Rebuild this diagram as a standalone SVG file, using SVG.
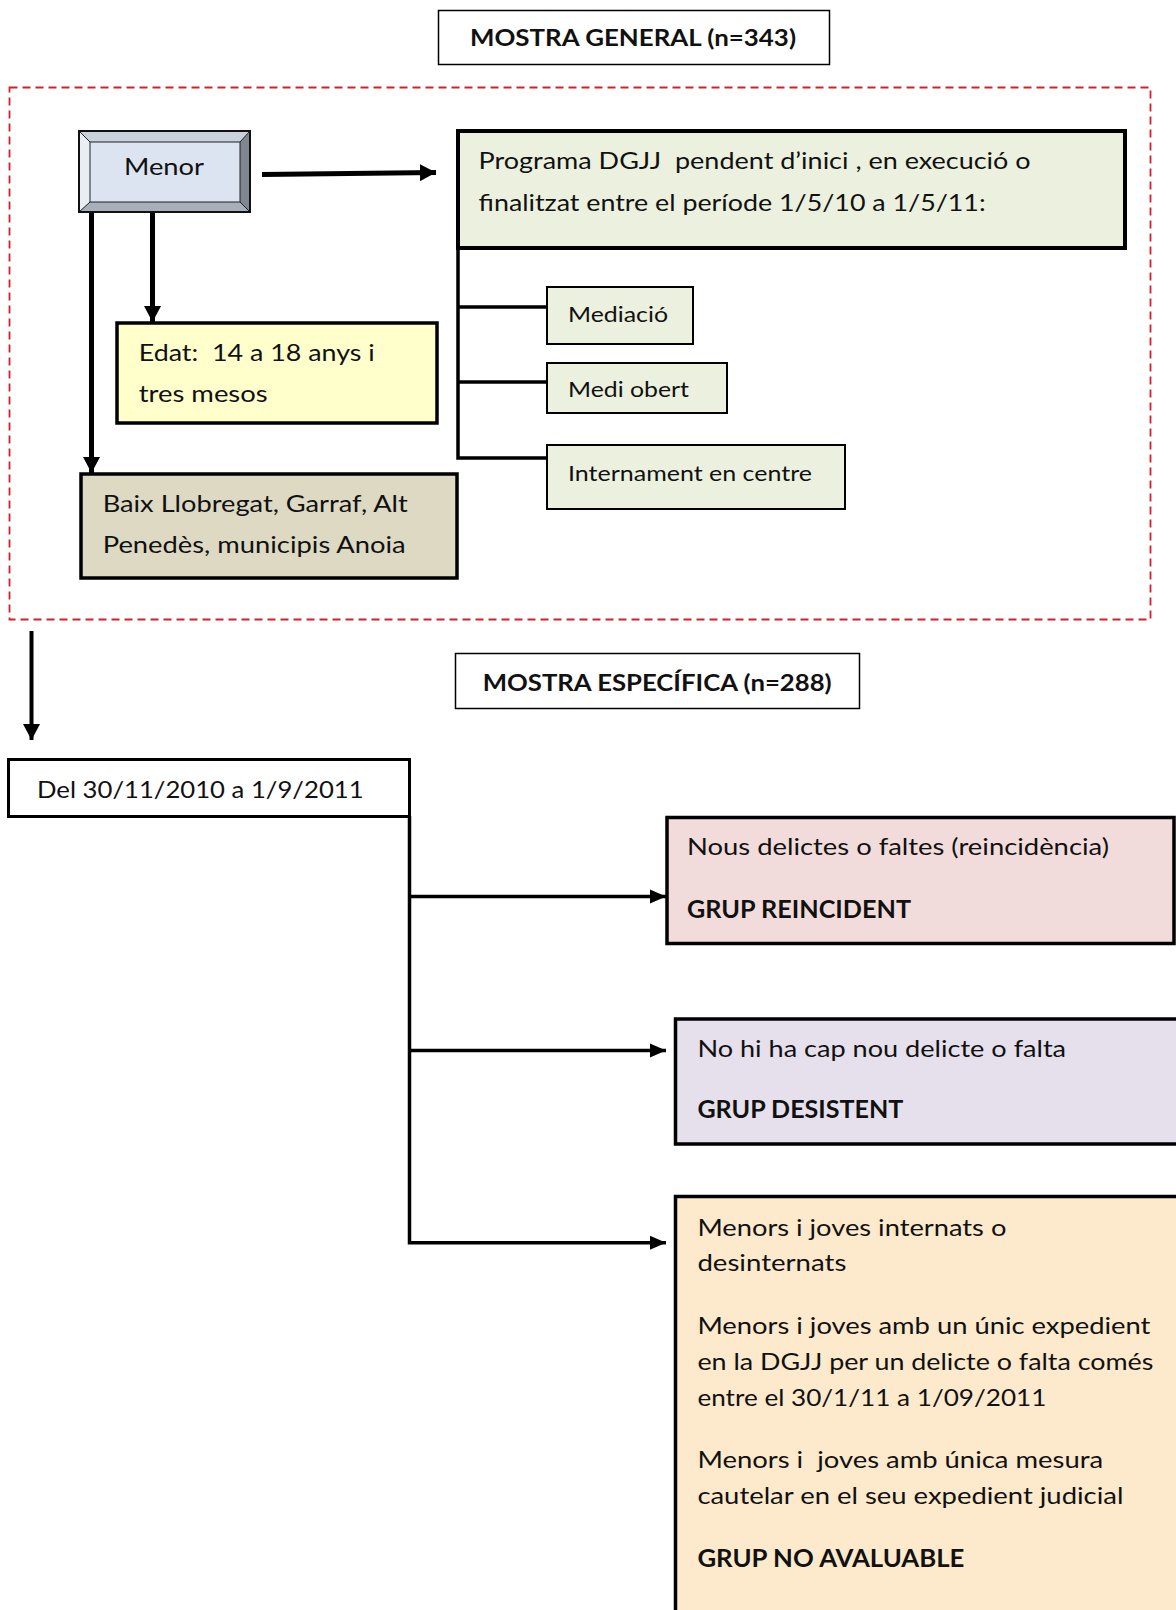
<svg xmlns="http://www.w3.org/2000/svg" width="1176" height="1610" viewBox="0 0 1176 1610">
<style>
text{font-family:Lato,"Liberation Sans",sans-serif;fill:#111;}
.t22{font-size:23px;}
.t20{font-size:21px;}
.t24{font-size:24px;}
.b{font-weight:bold;}
.box{stroke:#000;}
.line{fill:none;stroke:#000;}
</style>
<defs>
<marker id="ah" viewBox="0 0 16 17" markerWidth="16" markerHeight="17" markerUnits="userSpaceOnUse" refX="16" refY="8.5" orient="auto">
<path d="M0,0 L16,8.5 L0,17 z" fill="#000"/>
</marker>
<marker id="ahs" viewBox="0 0 16 15" markerWidth="16" markerHeight="15" markerUnits="userSpaceOnUse" refX="16" refY="7.5" orient="auto">
<path d="M0,0.5 L16,7.5 L0,14.5 z" fill="#000"/>
</marker>
</defs>
<rect width="1176" height="1610" fill="#fff"/>

<rect x="9.5" y="87.5" width="1141" height="532" fill="none" stroke="#d4202a" stroke-width="1.8" stroke-dasharray="8,5"/>

<g id="connectors">
<line class="line" x1="262" y1="174.5" x2="436" y2="172.5" stroke-width="5" marker-end="url(#ah)"/>
<line class="line" x1="152.5" y1="212" x2="152.5" y2="322" stroke-width="5" marker-end="url(#ah)"/>
<line class="line" x1="91.5" y1="212" x2="91.5" y2="473" stroke-width="5" marker-end="url(#ah)"/>
<polyline class="line" points="458,248 458,458 547,458" stroke-width="3.5"/>
<line class="line" x1="458" y1="307" x2="547" y2="307" stroke-width="3.5"/>
<line class="line" x1="458" y1="382" x2="547" y2="382" stroke-width="3.5"/>
<line class="line" x1="31.5" y1="631" x2="31.5" y2="740" stroke-width="4" marker-end="url(#ah)"/>
<polyline class="line" points="409.5,816 409.5,1242.7 666,1242.7" stroke-width="3.5" marker-end="url(#ahs)"/>
<line class="line" x1="409.5" y1="896.5" x2="666" y2="896.5" stroke-width="3.5" marker-end="url(#ahs)"/>
<line class="line" x1="409.5" y1="1050.5" x2="666" y2="1050.5" stroke-width="3.5" marker-end="url(#ahs)"/>
</g>

<g id="mostra-general">
<rect class="box" x="438.5" y="10.5" width="391" height="54" fill="#fff" stroke-width="1.5"/>
<text class="t22 b" x="470" y="46" textLength="326" lengthAdjust="spacingAndGlyphs">MOSTRA GENERAL (n=343)</text>
</g>

<g id="menor">
<rect x="79" y="131" width="171" height="81" fill="#c9d1dc"/>
<polygon points="79,131 90,142 90,202 79,212" fill="#e9eef5"/>
<polygon points="250,131 240,142 240,202 250,212" fill="#7f8791"/>
<polygon points="79,212 90,202 240,202 250,212" fill="#a7afba"/>
<rect x="90" y="142" width="150" height="60" fill="#dbe4f0" stroke="#222" stroke-width="1"/>
<line x1="79" y1="131" x2="90" y2="142" stroke="#222" stroke-width="1"/>
<line x1="250" y1="131" x2="240" y2="142" stroke="#222" stroke-width="1"/>
<line x1="79" y1="212" x2="90" y2="202" stroke="#222" stroke-width="1"/>
<line x1="250" y1="212" x2="240" y2="202" stroke="#222" stroke-width="1"/>
<rect x="79" y="131" width="171" height="81" fill="none" stroke="#111" stroke-width="2"/>
<text class="t24" x="124" y="175" textLength="80" lengthAdjust="spacingAndGlyphs">Menor</text>
</g>

<g id="programa">
<rect class="box" x="458" y="131" width="667" height="117" fill="#ebf1de" stroke-width="4"/>
<text class="t24" xml:space="preserve" x="478.6" y="169" textLength="552" lengthAdjust="spacingAndGlyphs">Programa DGJJ  pendent d’inici , en execució o</text>
<text class="t24" x="478.6" y="211" textLength="507" lengthAdjust="spacingAndGlyphs">finalitzat entre el període 1/5/10 a 1/5/11:</text>
</g>

<g id="mediacio">
<rect class="box" x="547" y="287" width="146" height="57" fill="#ebf1de" stroke-width="2"/>
<text class="t20" x="568" y="322" textLength="100" lengthAdjust="spacingAndGlyphs">Mediació</text>
</g>

<g id="medi-obert">
<rect class="box" x="547" y="363" width="180" height="50" fill="#ebf1de" stroke-width="2"/>
<text class="t20" x="568" y="397" textLength="121" lengthAdjust="spacingAndGlyphs">Medi obert</text>
</g>

<g id="internament">
<rect class="box" x="547" y="445" width="298" height="64" fill="#ebf1de" stroke-width="2"/>
<text class="t20" x="568" y="481" textLength="244" lengthAdjust="spacingAndGlyphs">Internament en centre</text>
</g>

<g id="edat">
<rect class="box" x="117" y="323" width="320" height="100" fill="#ffffcc" stroke-width="3.5"/>
<text class="t24" xml:space="preserve" x="138.7" y="361" textLength="236" lengthAdjust="spacingAndGlyphs">Edat:  14 a 18 anys i</text>
<text class="t24" x="138.7" y="402" textLength="129" lengthAdjust="spacingAndGlyphs">tres mesos</text>
</g>

<g id="territori">
<rect class="box" x="81" y="474" width="376" height="104" fill="#ddd9c3" stroke-width="3.5"/>
<text class="t24" x="102.7" y="512" textLength="305" lengthAdjust="spacingAndGlyphs">Baix Llobregat, Garraf, Alt</text>
<text class="t24" x="102.7" y="553" textLength="303" lengthAdjust="spacingAndGlyphs">Penedès, municipis Anoia</text>
</g>

<g id="mostra-especifica">
<rect class="box" x="455.5" y="653.5" width="404" height="55" fill="#fff" stroke-width="1.5"/>
<text class="t22 b" x="482.7" y="691" textLength="349" lengthAdjust="spacingAndGlyphs">MOSTRA ESPECÍFICA (n=288)</text>
</g>

<g id="periode">
<rect class="box" x="8.5" y="759.5" width="401" height="57" fill="#fff" stroke-width="3"/>
<text class="t24" x="37" y="798" textLength="326.6" lengthAdjust="spacingAndGlyphs">Del 30/11/2010 a 1/9/2011</text>
</g>

<g id="reincident">
<rect class="box" x="667" y="817.5" width="507" height="126" fill="#f2dcdb" stroke-width="3.5"/>
<text class="t24" x="687" y="855" textLength="422" lengthAdjust="spacingAndGlyphs">Nous delictes o faltes (reincidència)</text>
<text class="t24 b" x="687" y="918" textLength="224" lengthAdjust="spacingAndGlyphs">GRUP REINCIDENT</text>
</g>

<g id="desistent">
<rect class="box" x="675.5" y="1019" width="505" height="125" fill="#e5e0ec" stroke-width="3.5"/>
<text class="t24" x="697.4" y="1057" textLength="368.7" lengthAdjust="spacingAndGlyphs">No hi ha cap nou delicte o falta</text>
<text class="t24 b" x="697.4" y="1118" textLength="206" lengthAdjust="spacingAndGlyphs">GRUP DESISTENT</text>
</g>

<g id="no-avaluable">
<rect class="box" x="675.5" y="1196.5" width="505" height="430" fill="#fde9cc" stroke-width="3.5"/>
<text class="t24" x="697.4" y="1236" textLength="309" lengthAdjust="spacingAndGlyphs">Menors i joves internats o</text>
<text class="t24" x="697.4" y="1271" textLength="149" lengthAdjust="spacingAndGlyphs">desinternats</text>
<text class="t24" x="697.4" y="1334" textLength="453" lengthAdjust="spacingAndGlyphs">Menors i joves amb un únic expedient</text>
<text class="t24" x="697.4" y="1370" textLength="456" lengthAdjust="spacingAndGlyphs">en la DGJJ per un delicte o falta comés</text>
<text class="t24" x="697.4" y="1406" textLength="349" lengthAdjust="spacingAndGlyphs">entre el 30/1/11 a 1/09/2011</text>
<text class="t24" xml:space="preserve" x="697.4" y="1468" textLength="405.7" lengthAdjust="spacingAndGlyphs">Menors i  joves amb única mesura</text>
<text class="t24" x="697.4" y="1504" textLength="426" lengthAdjust="spacingAndGlyphs">cautelar en el seu expedient judicial</text>
<text class="t24 b" x="697.4" y="1567" textLength="267" lengthAdjust="spacingAndGlyphs">GRUP NO AVALUABLE</text>
</g>
</svg>
